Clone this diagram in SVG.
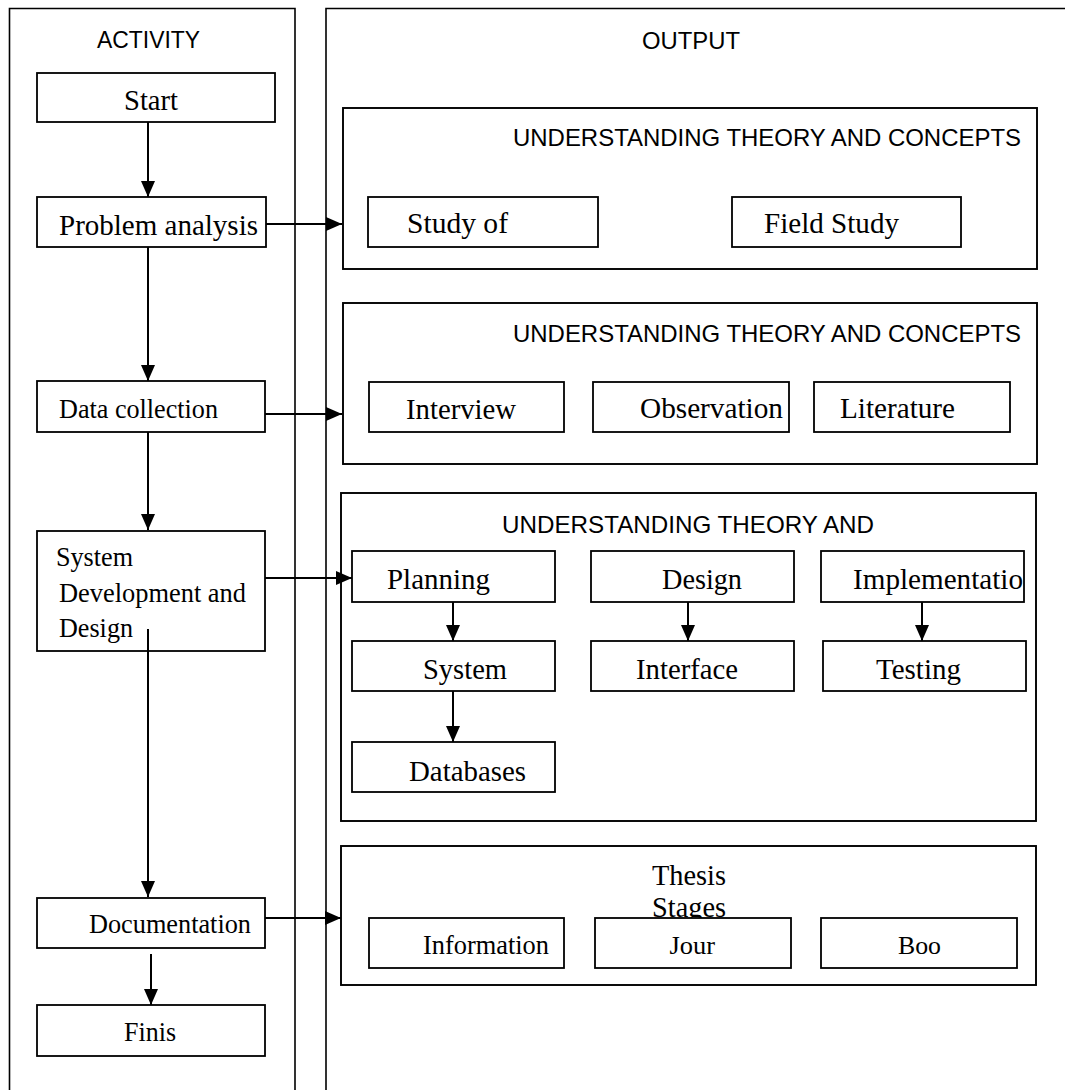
<svg xmlns="http://www.w3.org/2000/svg" width="1065" height="1090" viewBox="0 0 1065 1090">
<style>
.col{fill:none;stroke:#000;stroke-width:1.6}
.box{fill:#fff;stroke:#000;stroke-width:1.8}
.grp{fill:none;stroke:#000;stroke-width:1.9}
.sans{font-family:"Liberation Sans",Arial,sans-serif;font-size:23.8px;fill:#000}
.ser{font-family:"Liberation Serif","Times New Roman",serif;font-size:30px;fill:#000}
.sm{font-size:26.6px}
.xs{font-size:25.6px}
.conn line{stroke:#000;stroke-width:2}
</style>
<defs>
<marker id="ah" markerUnits="userSpaceOnUse" markerWidth="16" markerHeight="14" refX="16" refY="7" orient="auto">
<path d="M0,0 L16,7 L0,14 Z" fill="#000"/>
</marker>
</defs>
<rect width="1065" height="1090" fill="#fff"/>

<g id="activity-column">
<path class="col" d="M9.5,1092 V8.5 H295 V1092"/>
<text class="sans" x="97" y="48" font-size="23" textLength="103" lengthAdjust="spacingAndGlyphs">ACTIVITY</text>
</g>
<g id="output-column">
<path class="col" d="M326,1092 V8.5 H1070"/>
<text class="sans" x="642" y="49" textLength="98" lengthAdjust="spacingAndGlyphs">OUTPUT</text>
</g>

<g id="start"><rect class="box" x="37" y="73" width="238" height="49"/><text class="ser" x="124" y="110" textLength="54" lengthAdjust="spacingAndGlyphs">Start</text></g>
<g id="problem-analysis"><rect class="box" x="37" y="197" width="229" height="50"/><text class="ser" x="59" y="235" textLength="199" lengthAdjust="spacingAndGlyphs">Problem analysis</text></g>
<g id="data-collection"><rect class="box" x="37" y="381" width="228" height="51"/><text class="ser sm" x="59" y="417.5" textLength="159" lengthAdjust="spacingAndGlyphs">Data collection</text></g>
<g id="system-development"><rect class="box" x="37" y="531" width="228" height="120"/>
<text class="ser sm" x="56" y="566" textLength="77" lengthAdjust="spacingAndGlyphs">System</text>
<text class="ser sm" x="59" y="602" textLength="187" lengthAdjust="spacingAndGlyphs">Development and</text>
<text class="ser sm" x="59" y="637" textLength="74" lengthAdjust="spacingAndGlyphs">Design</text></g>
<g id="documentation"><rect class="box" x="37" y="898" width="228" height="50"/><text class="ser sm" x="89" y="933" textLength="162" lengthAdjust="spacingAndGlyphs">Documentation</text></g>
<g id="finish"><rect class="box" x="37" y="1005" width="228" height="51"/><text class="ser sm" x="124" y="1041" textLength="52" lengthAdjust="spacingAndGlyphs">Finis</text></g>

<g id="group-1"><rect class="grp" x="343" y="108" width="694" height="161"/>
<text class="sans" x="513" y="146" textLength="508" lengthAdjust="spacingAndGlyphs">UNDERSTANDING THEORY AND CONCEPTS</text></g>
<g id="study-of"><rect class="box" x="368" y="197" width="230" height="50"/><text class="ser" x="407" y="233" textLength="101" lengthAdjust="spacingAndGlyphs">Study of</text></g>
<g id="field-study"><rect class="box" x="732" y="197" width="229" height="50"/><text class="ser" x="764" y="233" textLength="135" lengthAdjust="spacingAndGlyphs">Field Study</text></g>

<g id="group-2"><rect class="grp" x="343" y="303" width="694" height="161"/>
<text class="sans" x="513" y="342" textLength="508" lengthAdjust="spacingAndGlyphs">UNDERSTANDING THEORY AND CONCEPTS</text></g>
<g id="interview"><rect class="box" x="369" y="382" width="195" height="50"/><text class="ser" x="406" y="419" textLength="110" lengthAdjust="spacingAndGlyphs">Interview</text></g>
<g id="observation"><rect class="box" x="593" y="382" width="196" height="50"/><text class="ser" x="640" y="418" textLength="143" lengthAdjust="spacingAndGlyphs">Observation</text></g>
<g id="literature"><rect class="box" x="814" y="382" width="196" height="50"/><text class="ser" x="840" y="418" textLength="115" lengthAdjust="spacingAndGlyphs">Literature</text></g>

<g id="group-3"><rect class="grp" x="341" y="493" width="695" height="328"/>
<text class="sans" x="502" y="533" textLength="372" lengthAdjust="spacingAndGlyphs">UNDERSTANDING THEORY AND</text></g>
<g id="planning"><rect class="box" x="352" y="551" width="203" height="51"/><text class="ser" x="387" y="589" textLength="103" lengthAdjust="spacingAndGlyphs">Planning</text></g>
<g id="design"><rect class="box" x="591" y="551" width="203" height="51"/><text class="ser" x="662" y="589" textLength="80" lengthAdjust="spacingAndGlyphs">Design</text></g>
<g id="implementation"><rect class="box" x="821" y="551" width="203" height="51"/><text class="ser" x="853" y="589" textLength="170" lengthAdjust="spacingAndGlyphs">Implementatio</text></g>
<g id="system"><rect class="box" x="352" y="641" width="203" height="50"/><text class="ser" x="423" y="679" textLength="84" lengthAdjust="spacingAndGlyphs">System</text></g>
<g id="interface"><rect class="box" x="591" y="641" width="203" height="50"/><text class="ser" x="636" y="679" textLength="102" lengthAdjust="spacingAndGlyphs">Interface</text></g>
<g id="testing"><rect class="box" x="823" y="641" width="203" height="50"/><text class="ser" x="876" y="679" textLength="85" lengthAdjust="spacingAndGlyphs">Testing</text></g>
<g id="databases"><rect class="box" x="352" y="742" width="203" height="50"/><text class="ser" x="409" y="781" textLength="117" lengthAdjust="spacingAndGlyphs">Databases</text></g>

<g id="group-4"><rect class="grp" x="341" y="846" width="695" height="139"/>
<text class="ser" x="652" y="885" textLength="74" lengthAdjust="spacingAndGlyphs">Thesis</text>
<text class="ser" x="652" y="917" textLength="74" lengthAdjust="spacingAndGlyphs">Stages</text></g>
<g id="information"><rect class="box" x="369" y="918" width="195" height="50"/><text class="ser sm" x="423" y="954" textLength="126" lengthAdjust="spacingAndGlyphs">Information</text></g>
<g id="journal"><rect class="box" x="595" y="918" width="196" height="50"/><text class="ser xs" x="669.5" y="954" textLength="45.5" lengthAdjust="spacingAndGlyphs">Jour</text></g>
<g id="book"><rect class="box" x="821" y="918" width="196" height="50"/><text class="ser xs" x="898" y="954" textLength="43" lengthAdjust="spacingAndGlyphs">Boo</text></g>

<g id="connectors" class="conn">
<line x1="148" y1="122" x2="148" y2="197" marker-end="url(#ah)"/>
<line x1="148" y1="247" x2="148" y2="381" marker-end="url(#ah)"/>
<line x1="148" y1="432" x2="148" y2="530" marker-end="url(#ah)"/>
<line x1="148" y1="629" x2="148" y2="897" marker-end="url(#ah)"/>
<line x1="151" y1="954" x2="151" y2="1005" marker-end="url(#ah)"/>
<line x1="266" y1="224" x2="342" y2="224" marker-end="url(#ah)"/>
<line x1="265" y1="414" x2="342" y2="414" marker-end="url(#ah)"/>
<line x1="265" y1="578" x2="352" y2="578" marker-end="url(#ah)"/>
<line x1="265" y1="918" x2="341" y2="918" marker-end="url(#ah)"/>
<line x1="453" y1="602" x2="453" y2="641" marker-end="url(#ah)"/>
<line x1="453" y1="691" x2="453" y2="742" marker-end="url(#ah)"/>
<line x1="688" y1="602" x2="688" y2="641" marker-end="url(#ah)"/>
<line x1="922" y1="602" x2="922" y2="641" marker-end="url(#ah)"/>
</g>
</svg>
